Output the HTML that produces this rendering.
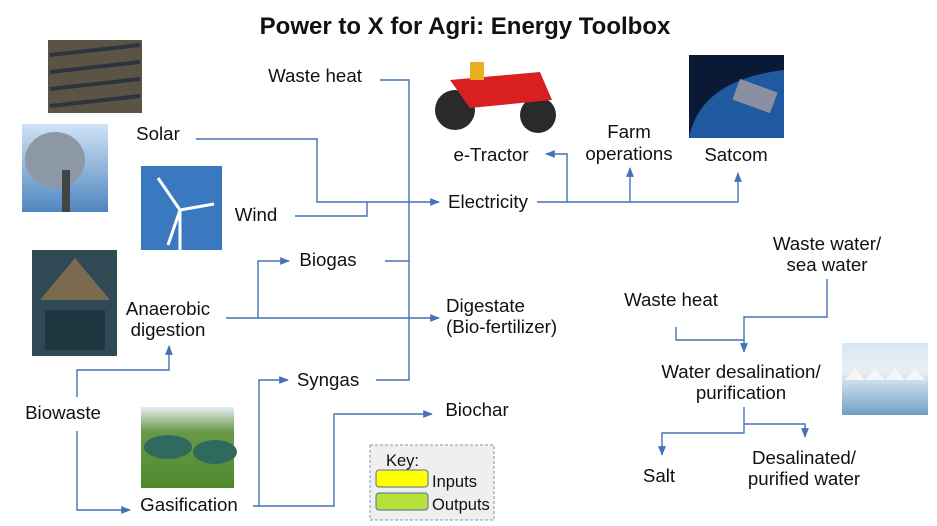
<!DOCTYPE html>
<html><head><meta charset="utf-8"><style>
body{margin:0;background:#fff}
svg{display:block;font-family:"Liberation Sans",Arial,sans-serif}
text{font-size:18.7px;fill:#111}
</style></head><body>
<svg width="937" height="526" viewBox="0 0 937 526" xmlns="http://www.w3.org/2000/svg">
<defs>
<marker id="a" viewBox="0 0 10 10" refX="9" refY="5" markerWidth="7" markerHeight="7" orient="auto"><path d="M0,1 L10,5 L0,9 z" fill="#4472b4"/></marker>
<linearGradient id="sky" x1="0" y1="0" x2="0" y2="1"><stop offset="0" stop-color="#cfe3f5"/><stop offset="1" stop-color="#4f86c0"/></linearGradient>
<linearGradient id="gas" x1="0" y1="0" x2="0" y2="1"><stop offset="0" stop-color="#e8eef4"/><stop offset="0.3" stop-color="#6a9a4a"/><stop offset="1" stop-color="#4d8a2c"/></linearGradient>
<linearGradient id="salt" x1="0" y1="0" x2="0" y2="1"><stop offset="0" stop-color="#d6e8f4"/><stop offset="0.4" stop-color="#e8eef2"/><stop offset="1" stop-color="#6fa0c8"/></linearGradient>
</defs>
<text x="465" y="34" text-anchor="middle" style="font-size:24px;font-weight:bold">Power to X for Agri: Energy Toolbox</text>

<!-- images -->
<rect x="48" y="40" width="94" height="73" fill="#5a5446"/>
<g stroke="#2c3440" stroke-width="4"><line x1="50" y1="55" x2="140" y2="45"/><line x1="50" y1="72" x2="140" y2="62"/><line x1="50" y1="89" x2="140" y2="79"/><line x1="50" y1="106" x2="140" y2="96"/></g>
<rect x="22" y="124" width="86" height="88" fill="url(#sky)"/>
<ellipse cx="55" cy="160" rx="30" ry="28" fill="#8c98a4"/><rect x="62" y="170" width="8" height="42" fill="#444"/>
<rect x="141" y="166" width="81" height="84" fill="#3a78c0"/>
<g stroke="#fff" stroke-width="3"><line x1="180" y1="210" x2="158" y2="178"/><line x1="180" y1="210" x2="214" y2="204"/><line x1="180" y1="210" x2="168" y2="245"/><line x1="180" y1="210" x2="180" y2="250"/></g>
<rect x="32" y="250" width="85" height="106" fill="#2f4a54"/><path d="M40,300 L75,258 L110,300 z" fill="#7a6a50"/><rect x="45" y="310" width="60" height="40" fill="#1f3640"/>
<rect x="141" y="407" width="93" height="81" fill="url(#gas)"/><ellipse cx="168" cy="447" rx="24" ry="12" fill="#2e6a5e"/><ellipse cx="215" cy="452" rx="22" ry="12" fill="#2e6a5e"/>
<g><circle cx="455" cy="110" r="20" fill="#2a2a2a"/><circle cx="538" cy="115" r="18" fill="#2a2a2a"/><path d="M450,80 L540,72 L552,100 L470,108 z" fill="#d92020"/><rect x="470" y="62" width="14" height="18" fill="#e8b020"/></g>
<rect x="689" y="55" width="95" height="83" fill="#0a1a36"/><path d="M689,138 Q700,80 784,70 L784,138 z" fill="#1f5aa0"/><rect x="735" y="85" width="40" height="22" fill="#8a90a0" transform="rotate(20 755 96)"/>
<rect x="842" y="343" width="86" height="72" fill="url(#salt)"/><path d="M845,380 l10,-12 l10,12 l10,-12 l10,12 l10,-12 l10,12 l10,-12 l10,12" fill="#f4f6f8"/>

<!-- connectors -->
<g fill="none" stroke="#4472b4" stroke-width="1.4">
<path d="M380,80 H409 V380 H376"/>
<path d="M196,139 H317 V202 H439" marker-end="url(#a)"/>
<path d="M295,216 H367 V202"/>
<path d="M537,202 H738 V173" marker-end="url(#a)"/>
<path d="M567,202 V154 H546" marker-end="url(#a)"/>
<path d="M630,202 V168" marker-end="url(#a)"/>
<path d="M385,261 H409"/>
<path d="M258,318 V261 H289" marker-end="url(#a)"/>
<path d="M226,318 H439" marker-end="url(#a)"/>
<path d="M77,397 V370 H169 V346" marker-end="url(#a)"/>
<path d="M77,431 V510 H130" marker-end="url(#a)"/>
<path d="M253,506 H259 V380 H288" marker-end="url(#a)"/>
<path d="M259,506 H334 V414 H432" marker-end="url(#a)"/>
<path d="M827,279 V317 H744 V352" marker-end="url(#a)"/>
<path d="M676,327 V340 H744"/>
<path d="M744,407 V433 H662 V455" marker-end="url(#a)"/>
<path d="M744,424 H805 V437" marker-end="url(#a)"/>
</g>

<!-- labels -->
<text x="315" y="82" text-anchor="middle">Waste heat</text>
<text x="158" y="140" text-anchor="middle">Solar</text>
<text x="256" y="221" text-anchor="middle">Wind</text>
<text x="488" y="208" text-anchor="middle">Electricity</text>
<text x="491" y="161" text-anchor="middle">e-Tractor</text>
<text x="629" y="138" text-anchor="middle">Farm</text>
<text x="629" y="160" text-anchor="middle">operations</text>
<text x="736" y="161" text-anchor="middle">Satcom</text>
<text x="328" y="266" text-anchor="middle">Biogas</text>
<text x="168" y="315" text-anchor="middle">Anaerobic</text>
<text x="168" y="336" text-anchor="middle">digestion</text>
<text x="446" y="312">Digestate</text>
<text x="446" y="333">(Bio-fertilizer)</text>
<text x="328" y="386" text-anchor="middle">Syngas</text>
<text x="63" y="419" text-anchor="middle">Biowaste</text>
<text x="477" y="416" text-anchor="middle">Biochar</text>
<text x="189" y="511" text-anchor="middle">Gasification</text>
<text x="827" y="250" text-anchor="middle">Waste water/</text>
<text x="827" y="271" text-anchor="middle">sea water</text>
<text x="671" y="306" text-anchor="middle">Waste heat</text>
<text x="741" y="378" text-anchor="middle">Water desalination/</text>
<text x="741" y="399" text-anchor="middle">purification</text>
<text x="659" y="482" text-anchor="middle">Salt</text>
<text x="804" y="464" text-anchor="middle">Desalinated/</text>
<text x="804" y="485" text-anchor="middle">purified water</text>

<!-- key -->
<rect x="370" y="445" width="124" height="75" fill="#efefef" stroke="#7f96b8" stroke-dasharray="3,2"/>
<text x="386" y="466" style="font-size:16.5px">Key:</text>
<rect x="376" y="470" width="52" height="17" rx="3" fill="#ffff00" stroke="#4f6f9a"/>
<rect x="376" y="493" width="52" height="17" rx="3" fill="#b8e03a" stroke="#4f6f9a"/>
<text x="432" y="487" style="font-size:16.5px">Inputs</text>
<text x="432" y="510" style="font-size:16.5px">Outputs</text>
</svg>
</body></html>
